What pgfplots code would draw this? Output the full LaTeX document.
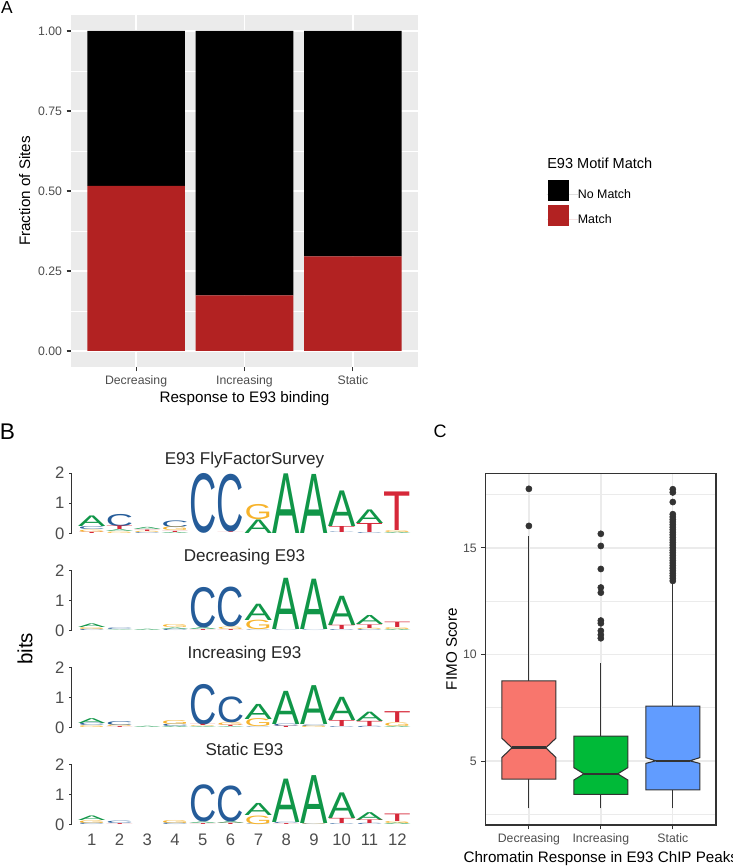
\documentclass[border=0pt]{standalone}
\usepackage{pgfplots}
\pgfplotsset{compat=1.18}
\usepackage{pgfplotstable}
\usepackage{graphicx}
\usepackage{fontspec}
\setmainfont{Liberation Sans}
\definecolor{panelgray}{HTML}{EBEBEB}
\definecolor{tickgray}{HTML}{333333}
\definecolor{labgray}{HTML}{4D4D4D}
\definecolor{matchred}{HTML}{B22222}
\definecolor{decfill}{HTML}{F8766D}
\definecolor{incfill}{HTML}{00BA38}
\definecolor{stafill}{HTML}{619CFF}
\definecolor{lgA}{HTML}{109648}
\definecolor{lgC}{HTML}{255C99}
\definecolor{lgG}{HTML}{F7B32B}
\definecolor{lgT}{HTML}{D62839}
\newdimen\bitunit \bitunit=22.6pt

% sequence logo stacks: x = position, y = bottom (bits), h = height (bits),
% k = letter code (1 A, 2 C, 3 G, 4 T)
\pgfplotstableread{
x y h k
1 0 0.04 4
1 0.04 0.08 3
1 0.12 0.10 2
1 0.22 0.35 1
2 0 0.05 3
2 0.05 0.06 1
2 0.11 0.12 4
2 0.23 0.40 2
3 0 0.03 2
3 0.03 0.04 3
3 0.07 0.05 4
3 0.12 0.07 1
4 0 0.04 1
4 0.04 0.04 4
4 0.08 0.12 3
4 0.20 0.22 2
5 0 1.96 2
6 0 0.02 4
6 0.02 1.90 2
7 0 0.45 1
7 0.45 0.50 3
8 0 1.98 1
9 0 1.96 1
10 0 0.02 2
10 0.02 0.20 4
10 0.22 1.18 1
11 0 0.03 2
11 0.03 0.30 4
11 0.33 0.45 1
12 0 0.04 1
12 0.04 0.06 3
12 0.10 1.28 4
}\logoFFS
\pgfplotstableread{
x y h k
1 0 0.04 2
1 0.04 0.06 3
1 0.10 0.12 1
2 0 0.02 1
2 0.02 0.05 2
3 0 0.04 1
4 0 0.04 2
4 0.04 0.05 1
4 0.09 0.10 3
5 0 0.03 4
5 0.03 0.06 1
5 0.09 1.33 2
6 0 0.03 4
6 0.03 0.08 3
6 0.11 1.31 2
7 0 0.02 2
7 0.02 0.31 3
7 0.33 0.54 1
8 0 0.02 2
8 0.02 1.70 1
9 0 0.02 2
9 0.02 1.67 1
10 0 0.03 2
10 0.03 0.14 4
10 0.17 0.97 1
11 0 0.03 2
11 0.03 0.04 3
11 0.07 0.12 4
11 0.19 0.30 1
12 0 0.04 1
12 0.04 0.06 3
12 0.10 0.18 4
}\logoDec
\pgfplotstableread{
x y h k
1 0 0.06 3
1 0.06 0.08 2
1 0.14 0.16 1
2 0 0.03 4
2 0.03 0.05 3
2 0.08 0.13 2
3 0 0.04 1
4 0 0.04 1
4 0.04 0.08 2
4 0.12 0.13 3
5 0 0.03 1
5 0.03 0.03 3
5 0.06 0.04 4
5 0.10 1.33 2
6 0 0.03 1
6 0.03 0.04 4
6 0.07 0.09 3
6 0.16 0.85 2
7 0 0.02 2
7 0.02 0.26 3
7 0.28 0.50 1
8 0 0.04 4
8 0.04 0.08 2
8 0.12 1.10 1
9 0 0.05 3
9 0.05 0.05 2
9 0.10 1.29 1
10 0 0.03 2
10 0.03 0.20 4
10 0.23 0.77 1
11 0 0.04 2
11 0.04 0.17 4
11 0.21 0.31 1
12 0 0.04 1
12 0.04 0.12 3
12 0.16 0.36 4
}\logoInc
\pgfplotstableread{
x y h k
1 0 0.06 2
1 0.06 0.09 3
1 0.15 0.15 1
2 0 0.03 4
2 0.03 0.08 2
4 0 0.06 2
4 0.06 0.10 3
5 0 0.03 4
5 0.03 0.05 1
5 0.08 1.22 2
6 0 0.04 4
6 0.04 0.06 1
6 0.10 1.18 2
7 0 0.02 2
7 0.02 0.28 3
7 0.30 0.40 1
8 0 0.03 4
8 0.03 0.04 2
8 0.07 1.44 1
9 0 0.02 3
9 0.02 0.03 2
9 0.05 1.59 1
10 0 0.03 2
10 0.03 0.17 4
10 0.20 0.85 1
11 0 0.04 2
11 0.04 0.12 4
11 0.16 0.26 1
12 0 0.05 1
12 0.05 0.07 3
12 0.12 0.25 4
}\logoSta

\pgfplotsset{
  logo/.style={
    scale only axis, width=254.6pt, height=45.2pt,
    xmin=0.28, xmax=12.5, ymin=0, ymax=2, clip=false,
    axis lines*=left,
    axis line style={-, draw=tickgray, line width=0.6pt},
    x axis line style={draw=none},
    xtick={1,2,3,4,5,6,7,8,9,10,11,12}, xticklabels={},
    xtick style={draw=none},
    ytick={0,1,2}, yticklabels={0,1,2},
    tick align=outside, major tick length=1.9pt,
    ytick style={draw=tickgray, line width=0.6pt},
    ticklabel style={font=\fontsize{12.5}{14}\selectfont, text=labgray},
    title style={at={(axis description cs:0.509,1)}, anchor=base, yshift=0.6pt,
      font=\fontsize{12.8}{15}\selectfont, text=black!85},
  },
  logoletter/.style 2 args={
    only marks, mark=none,
    point meta=explicit symbolic,
    restrict expr to domain={\thisrow{k}}{#1:#1},
    nodes near coords={\resizebox{20.5pt}{\pgfplotspointmeta\bitunit}{\textcolor{lg#2}{#2}}},
    every node near coord/.style={anchor=south, inner sep=0pt, outer sep=0pt},
  },
  sqlegend/.style={legend image code/.code={%
    \fill[##1, draw=white, line width=0.4pt] (0pt,-5pt) rectangle (16.5pt,11.5pt);
    \path (0pt,0pt) -- (23.2pt,0pt);}},
}

\begin{document}
\begin{tikzpicture}

% ---------------- Panel A ----------------
\begin{axis}[
  at={(53.25pt,375pt)}, anchor=south west, scale only axis,
  width=260.25pt, height=264pt,
  xmin=0.4, xmax=3.6, ymin=-0.05, ymax=1.05,
  axis background/.style={fill=panelgray},
  axis line style={draw=none},
  xtick={1,2,3}, xticklabels={Decreasing,Increasing,Static},
  ytick={0,0.25,0.5,0.75,1}, yticklabels={0.00,0.25,0.50,0.75,1.00},
  minor ytick={0.125,0.375,0.625,0.875},
  xmajorgrids, ymajorgrids, yminorgrids,
  major grid style={white, line width=1.0pt},
  minor grid style={white, line width=0.5pt},
  tick align=outside, xtick pos=left, ytick pos=left,
  major tick length=3.2pt, minor tick length=0pt,
  tick style={color=tickgray, line width=0.8pt},
  ticklabel style={font=\fontsize{9.2}{10}\selectfont, text=labgray},
  xlabel={Response to E93 binding}, ylabel={Fraction of Sites},
  label style={font=\fontsize{11.4}{13}\selectfont},
  xlabel style={at={(axis description cs:0.5,-0.0997)}, anchor=base},
  ylabel style={at={(axis description cs:-0.1334,0.5)}, anchor=center},
  ybar stacked, bar width=0.9,
  reverse legend,
  legend style={at={(axis description cs:1.3709,0.5332)}, anchor=north west,
    draw=none, fill=none, inner sep=0pt, outer sep=0pt, row sep=1.8pt,
    font=\fontsize{9.3}{11}\selectfont, nodes={inner sep=0pt}},
  legend cell align=left,
]
\addplot[fill=matchred, draw=none, sqlegend] coordinates {(1,0.516) (2,0.174) (3,0.296)};
\addlegendentry{Match}
\addplot[fill=black, draw=none, sqlegend] coordinates {(1,0.484) (2,0.826) (3,0.704)};
\addlegendentry{No Match}
\end{axis}
\node[anchor=west, font=\fontsize{10.9}{13}\selectfont, inner sep=0pt] at (410.25pt,527.78pt) {E93 Motif Match};

% ---------------- Panel B ----------------
\begin{axis}[logo, at={(53.78pt,250.28pt)}, anchor=south west, title={E93 FlyFactorSurvey}]
\addplot[logoletter={1}{A}] table[x=x, y=y, meta=h] {\logoFFS};
\addplot[logoletter={2}{C}] table[x=x, y=y, meta=h] {\logoFFS};
\addplot[logoletter={3}{G}] table[x=x, y=y, meta=h] {\logoFFS};
\addplot[logoletter={4}{T}] table[x=x, y=y, meta=h] {\logoFFS};
\end{axis}
\begin{axis}[logo, at={(53.78pt,177.38pt)}, anchor=south west, title={Decreasing E93}]
\addplot[logoletter={1}{A}] table[x=x, y=y, meta=h] {\logoDec};
\addplot[logoletter={2}{C}] table[x=x, y=y, meta=h] {\logoDec};
\addplot[logoletter={3}{G}] table[x=x, y=y, meta=h] {\logoDec};
\addplot[logoletter={4}{T}] table[x=x, y=y, meta=h] {\logoDec};
\end{axis}
\begin{axis}[logo, at={(53.78pt,104.48pt)}, anchor=south west, title={Increasing E93}]
\addplot[logoletter={1}{A}] table[x=x, y=y, meta=h] {\logoInc};
\addplot[logoletter={2}{C}] table[x=x, y=y, meta=h] {\logoInc};
\addplot[logoletter={3}{G}] table[x=x, y=y, meta=h] {\logoInc};
\addplot[logoletter={4}{T}] table[x=x, y=y, meta=h] {\logoInc};
\end{axis}
\begin{axis}[logo, at={(53.78pt,31.58pt)}, anchor=south west, title={Static E93},
  xticklabels={1,2,3,4,5,6,7,8,9,10,11,12}, xticklabel style={yshift=-1.5pt}]
\addplot[logoletter={1}{A}] table[x=x, y=y, meta=h] {\logoSta};
\addplot[logoletter={2}{C}] table[x=x, y=y, meta=h] {\logoSta};
\addplot[logoletter={3}{G}] table[x=x, y=y, meta=h] {\logoSta};
\addplot[logoletter={4}{T}] table[x=x, y=y, meta=h] {\logoSta};
\end{axis}
\node[rotate=90, font=\fontsize{15.4}{18}\selectfont] at (18.75pt,163.5pt) {bits};

% ---------------- Panel C ----------------
\begin{axis}[
  at={(364.28pt,31.5pt)}, anchor=south west, scale only axis,
  width=172.7pt, height=263.8pt,
  xmin=0.4, xmax=3.6, ymin=2.0, ymax=18.5,
  axis line style={draw=tickgray, line width=0.8pt},
  xtick={1,2,3}, xticklabels={Decreasing,Increasing,Static},
  ytick={5,10,15}, yticklabels={5,10,15},
  minor ytick={2.5,7.5,12.5,17.5},
  xmajorgrids, ymajorgrids, yminorgrids,
  major grid style={panelgray, line width=1.0pt},
  minor grid style={panelgray, line width=0.5pt},
  tick align=outside, xtick pos=left, ytick pos=left,
  major tick length=3.2pt, minor tick length=0pt,
  tick style={color=tickgray, line width=0.8pt},
  ticklabel style={font=\fontsize{9.2}{10}\selectfont, text=labgray},
  xlabel={Chromatin Response in E93 ChIP Peaks}, ylabel={FIMO Score},
  label style={font=\fontsize{11.4}{13}\selectfont},
  xlabel style={at={(axis description cs:0.5,-0.1063)}, anchor=base},
  ylabel style={at={(axis description cs:-0.1476,0.5)}, anchor=center},
]
% whiskers
\addplot[tickgray, line width=0.8pt] coordinates {(1,2.78) (1,4.15)};
\addplot[tickgray, line width=0.8pt] coordinates {(1,8.76) (1,15.58)};
\addplot[tickgray, line width=0.8pt] coordinates {(2,2.78) (2,3.44)};
\addplot[tickgray, line width=0.8pt] coordinates {(2,6.17) (2,9.59)};
\addplot[tickgray, line width=0.8pt] coordinates {(3,2.78) (3,3.65)};
\addplot[tickgray, line width=0.8pt] coordinates {(3,7.58) (3,13.4)};
% notched boxes
\addplot[fill=decfill, draw=tickgray, line width=0.8pt] coordinates {
 (0.625,4.15) (1.375,4.15) (1.375,5.17) (1.235,5.62) (1.375,6.07) (1.375,8.76)
 (0.625,8.76) (0.625,6.07) (0.765,5.62) (0.625,5.17)} --cycle;
\addplot[fill=incfill, draw=tickgray, line width=0.8pt] coordinates {
 (1.625,3.44) (2.375,3.44) (2.375,4.11) (2.235,4.40) (2.375,4.69) (2.375,6.17)
 (1.625,6.17) (1.625,4.69) (1.765,4.40) (1.625,4.11)} --cycle;
\addplot[fill=stafill, draw=tickgray, line width=0.8pt] coordinates {
 (2.625,3.65) (3.375,3.65) (3.375,4.89) (3.235,5.01) (3.375,5.16) (3.375,7.58)
 (2.625,7.58) (2.625,5.16) (2.765,5.01) (2.625,4.89)} --cycle;
% medians
\addplot[tickgray, line width=2pt] coordinates {(0.765,5.62) (1.235,5.62)};
\addplot[tickgray, line width=2pt] coordinates {(1.765,4.40) (2.235,4.40)};
\addplot[tickgray, line width=2pt] coordinates {(2.765,5.01) (3.235,5.01)};
% outliers
\addplot[only marks, mark=*, mark size=2.3pt, tickgray] coordinates {
 (1,16.03) (1,17.77)
 (2,10.76) (2,10.92) (2,11.11) (2,11.46) (2,11.59) (2,12.90) (2,13.14) (2,14.01) (2,15.09) (2,15.66)
 (3,13.45) (3,13.57) (3,13.69) (3,13.81) (3,13.93) (3,14.05) (3,14.17) (3,14.29) (3,14.41)
 (3,14.53) (3,14.65) (3,14.77) (3,14.89) (3,15.01) (3,15.13) (3,15.25) (3,15.37) (3,15.49)
 (3,15.61) (3,15.73) (3,15.85) (3,15.97) (3,16.09) (3,16.21) (3,16.33) (3,16.45) (3,16.58)
 (3,17.15) (3,17.60) (3,17.75)};
\end{axis}

% panel tags
\node[font=\fontsize{13}{15}\selectfont, inner sep=0pt] at (5.25pt,644.45pt) {A};
\node[font=\fontsize{17}{20}\selectfont, inner sep=0pt] at (5.63pt,326.63pt) {B};
\node[font=\fontsize{13.5}{16}\selectfont, inner sep=0pt] at (330pt,326.63pt) {C};

\pgfresetboundingbox
\path[use as bounding box] (0pt,0pt) rectangle (549pt,650.25pt);
\end{tikzpicture}
\end{document}
